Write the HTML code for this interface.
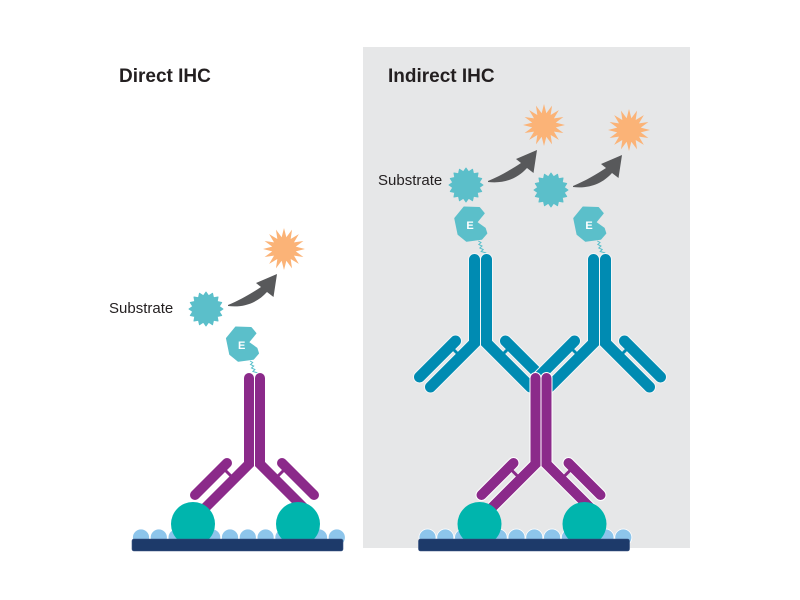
<!DOCTYPE html>
<html>
<head>
<meta charset="utf-8">
<style>
  html, body { margin: 0; padding: 0; background: #ffffff; }
  svg { display: block; }
  text { font-family: "Liberation Sans", "DejaVu Sans", sans-serif; fill: #231f20; }
</style>
</head>
<body>
<svg width="800" height="600" viewBox="0 0 800 600" xmlns="http://www.w3.org/2000/svg">
  <defs>
    <polygon id="gear" fill="#5bbfca" stroke="#5bbfca" stroke-width="1" stroke-linejoin="round"
      points="17,0 13.24,2.63 15.71,6.51 11.23,7.5 12.02,12.02 7.5,11.23 6.51,15.71 2.63,13.24 0,17 -2.63,13.24 -6.51,15.71 -7.5,11.23 -12.02,12.02 -11.23,7.5 -15.71,6.51 -13.24,2.63 -17,0 -13.24,-2.63 -15.71,-6.51 -11.23,-7.5 -12.02,-12.02 -7.5,-11.23 -6.51,-15.71 -2.63,-13.24 0,-17 2.63,-13.24 6.51,-15.71 7.5,-11.23 12.02,-12.02 11.23,-7.5 15.71,-6.51 13.24,-2.63"/>
    <polygon id="star" fill="#fbb377"
      points="21,0 11.77,2.34 19.4,8.04 9.98,6.67 14.85,14.85 6.67,9.98 8.04,19.4 2.34,11.77 0,21 -2.34,11.77 -8.04,19.4 -6.67,9.98 -14.85,14.85 -9.98,6.67 -19.4,8.04 -11.77,2.34 -21,0 -11.77,-2.34 -19.4,-8.04 -9.98,-6.67 -14.85,-14.85 -6.67,-9.98 -8.04,-19.4 -2.34,-11.77 0,-21 2.34,-11.77 8.04,-19.4 6.67,-9.98 14.85,-14.85 9.98,-6.67 19.4,-8.04 11.77,-2.34"/>
    <path id="arr" fill="#58595b"
      d="M228,306 C245,308 258,302 267,292 L273.5,297 L277,274 L256,283 L261,287 C252,293 240,300 228,305 Z"/>
    <g id="enz">
      <polygon fill="#5bbfca" stroke="#5bbfca" stroke-width="1.5" stroke-linejoin="round"
        points="-6,-17.7 9.3,-17.3 14,-11.7 6.6,-2.7 15,3.3 16.6,8.3 11.6,14 -3.4,16 -11.7,9.3 -15,-6.7"/>
      <polyline fill="none" stroke="#5bc0cb" stroke-width="1"
        points="8.3,16 11,17.5 8.8,19.5 12,21 9.8,23 13.2,24.5 11.2,26.5 16.3,28"/>
    </g>
    <g id="pab" fill="none" stroke-linecap="round">
      <g stroke="#ffffff" stroke-width="12">
        <path d="M-5.5,-88 L-5.5,-2 L-50,42.5"/>
        <path d="M5.5,-88 L5.5,-2 L50,42.5"/>
        <path d="M-27.5,-3 L-59.5,29"/>
        <path d="M27.5,-3 L59.5,29"/>
      </g>
      <g stroke="#8b2a8a" stroke-width="10">
        <path d="M-5.5,-88 L-5.5,-2 L-50,42.5"/>
        <path d="M5.5,-88 L5.5,-2 L50,42.5"/>
        <path d="M-27.5,-3 L-59.5,29"/>
        <path d="M27.5,-3 L59.5,29"/>
      </g>
      <g stroke="#8b2a8a" stroke-width="3" stroke-linecap="butt">
        <path d="M-20,13.5 L-32,1.5"/>
        <path d="M20,13.5 L32,1.5"/>
      </g>
    </g>
    <g id="bab" fill="none" stroke-linecap="round">
      <g stroke="#f4f6f7" stroke-width="13">
        <path d="M-6,-85.5 L-6,-2 L-50,42"/>
        <path d="M6,-85.5 L6,-2 L50,42"/>
        <path d="M-25,-4 L-61,32"/>
        <path d="M25,-4 L61,32"/>
      </g>
      <g stroke="#008bb2" stroke-width="11">
        <path d="M-6,-85.5 L-6,-2 L-50,42"/>
        <path d="M6,-85.5 L6,-2 L50,42"/>
        <path d="M-25,-4 L-61,32"/>
        <path d="M25,-4 L61,32"/>
      </g>
      <g stroke="#008bb2" stroke-width="3" stroke-linecap="butt">
        <path d="M-19.75,11.75 L-30.25,1.25"/>
        <path d="M19.75,11.75 L30.25,1.25"/>
      </g>
    </g>
    <g id="base">
      <g fill="#8dc5eb" stroke="#ffffff" stroke-width="0.8">
        <circle cx="141" cy="537.5" r="8.5"/>
        <circle cx="158.8" cy="537.5" r="8.5"/>
        <circle cx="176.6" cy="537.5" r="8.5"/>
        <circle cx="194.4" cy="537.5" r="8.5"/>
        <circle cx="212.2" cy="537.5" r="8.5"/>
        <circle cx="230" cy="537.5" r="8.5"/>
        <circle cx="247.8" cy="537.5" r="8.5"/>
        <circle cx="265.6" cy="537.5" r="8.5"/>
        <circle cx="283.4" cy="537.5" r="8.5"/>
        <circle cx="301.2" cy="537.5" r="8.5"/>
        <circle cx="319" cy="537.5" r="8.5"/>
        <circle cx="336.8" cy="537.5" r="8.5"/>
      </g>
    </g>
    <g id="circs" fill="#00b5ad">
      <circle cx="193" cy="524" r="22"/>
      <circle cx="298" cy="524" r="22"/>
    </g>
    <rect id="bar" x="132" y="539" width="211" height="12" rx="2" fill="#1d3a6a" stroke="#3a5583" stroke-width="0.6"/>
  </defs>

  <!-- gray panel -->
  <rect x="363" y="47" width="327" height="501" fill="#e6e7e8"/>

  <!-- titles -->
  <text x="119" y="82" font-size="19" font-weight="bold">Direct IHC</text>
  <text x="388" y="82" font-size="19" font-weight="bold">Indirect IHC</text>

  <!-- Direct IHC -->
  <text x="109" y="313" font-size="15">Substrate</text>
  <use href="#gear" transform="translate(206,309)"/>
  <use href="#star" transform="translate(284,249)"/>
  <use href="#arr"/>
  <use href="#enz" transform="translate(241.7,345)"/>
  <text x="241.7" y="349" font-size="11" font-weight="bold" text-anchor="middle" style="fill:#ffffff">E</text>

  <use href="#base"/>
  <use href="#pab" transform="translate(254.5,466)"/>
  <use href="#circs"/>
  <use href="#bar"/>

  <!-- Indirect IHC -->
  <text x="378" y="185" font-size="15">Substrate</text>
  <use href="#gear" transform="translate(466,185)"/>
  <use href="#gear" transform="translate(551,190)"/>
  <use href="#star" transform="translate(544,125)"/>
  <use href="#star" transform="translate(629,130)"/>
  <use href="#arr" transform="translate(260,-124)"/>
  <use href="#arr" transform="translate(345,-119)"/>
  <use href="#enz" transform="translate(470,225)"/>
  <use href="#enz" transform="translate(589,225)"/>
  <text x="470" y="229" font-size="11" font-weight="bold" text-anchor="middle" style="fill:#ffffff">E</text>
  <text x="589" y="229" font-size="11" font-weight="bold" text-anchor="middle" style="fill:#ffffff">E</text>

  <use href="#base" transform="translate(286.5,0)"/>
  <use href="#bab" transform="translate(480.5,345)"/>
  <use href="#bab" transform="translate(599.5,345)"/>
  <use href="#pab" transform="translate(541,466)"/>
  <use href="#circs" transform="translate(286.5,0)"/>
  <use href="#bar" transform="translate(286.5,0)"/>
</svg>
</body>
</html>
